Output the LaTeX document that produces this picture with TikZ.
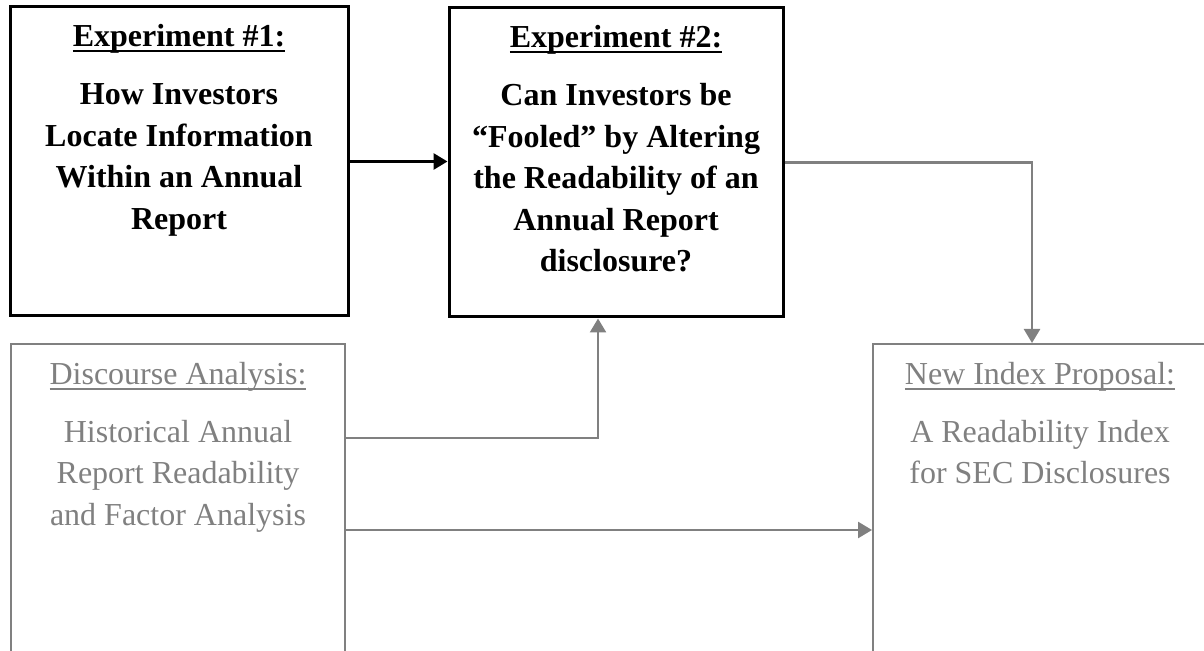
\documentclass[tikz,border=0pt]{standalone}
\usepackage{fontspec}
\setmainfont{Liberation Serif}
\usetikzlibrary{arrows.meta,positioning}
\definecolor{fadegray}{RGB}{128,128,128}
\newlength{\hdlen}
\newcommand{\hdul}[1]{\settowidth{\hdlen}{#1}\rlap{\rule[-2.6pt]{\hdlen}{1pt}}#1}
\newcommand{\lines}[1]{\parbox[t]{170pt}{\centering #1}}

\begin{document}
\begin{tikzpicture}[x=0.5pt,y=-0.5pt,
  >={Triangle[length=7pt,width=8pt]},
  box/.style={rectangle, draw, inner sep=0pt, minimum height=154.5pt},
  main/.style={box, line width=1.5pt},
  side/.style={box, draw=fadegray, line width=1pt, minimum width=167pt, minimum height=200pt},
  words/.style={anchor=base, inner sep=0pt, align=center, font=\fontsize{16}{20.75}\selectfont},
  bold/.style={words, font=\fontsize{16}{20.75}\selectfont\bfseries},
  faded/.style={words, text=fadegray}]
  \tikzstyle{link}=[->, line width=1.25pt, fadegray]

  \path[use as bounding box, clip] (0,0) rectangle (1204,651);

  % the two experiments
  \node[main, minimum width=169pt] (exp1) at (179,161.5) {};
  \node[main, minimum width=167pt] (exp2) at (616,162.5) {};
  \node[below=20.75pt of exp1.north, bold] (exp1h) {\hdul{Experiment \#1:}};
  \node[below=49.75pt of exp1.north, bold] (exp1b)
    {\lines{How Investors\\Locate Information\\Within an Annual\\Report}};
  \node[below=20.75pt of exp2.north, bold] (exp2h) {\hdul{Experiment \#2:}};
  \node[below=49.75pt of exp2.north, bold] (exp2b)
    {\lines{Can Investors be\\“Fooled” by Altering\\the Readability of an\\Annual Report\\disclosure?}};

  % the two other studies
  \node[side] (disc) at (178,544) {};
  \node[side] (prop) at (1040,544) {};
  \node[below=20.75pt of disc.north, faded] (disch) {\hdul{Discourse Analysis:}};
  \node[below=49.75pt of disc.north, faded] (discb)
    {\lines{Historical Annual\\Report Readability\\and Factor Analysis}};
  \node[below=20.75pt of prop.north, faded] (proph) {\hdul{New Index Proposal:}};
  \node[below=49.75pt of prop.north, faded] (propb)
    {\lines{A Readability Index\\for SEC Disclosures}};

  \draw[link, black, line width=1.5pt] (exp1.east) -- (exp1.east -| exp2.west);
  \draw[link] (exp2.east) -| ([xshift=-4pt]prop.north);
  \draw[link] ([yshift=53pt]disc.east) -| ([xshift=-9pt]exp2.south);
  \draw[link] ([yshift=7pt]disc.east) -- ([yshift=7pt]prop.west);
\end{tikzpicture}
\end{document}
